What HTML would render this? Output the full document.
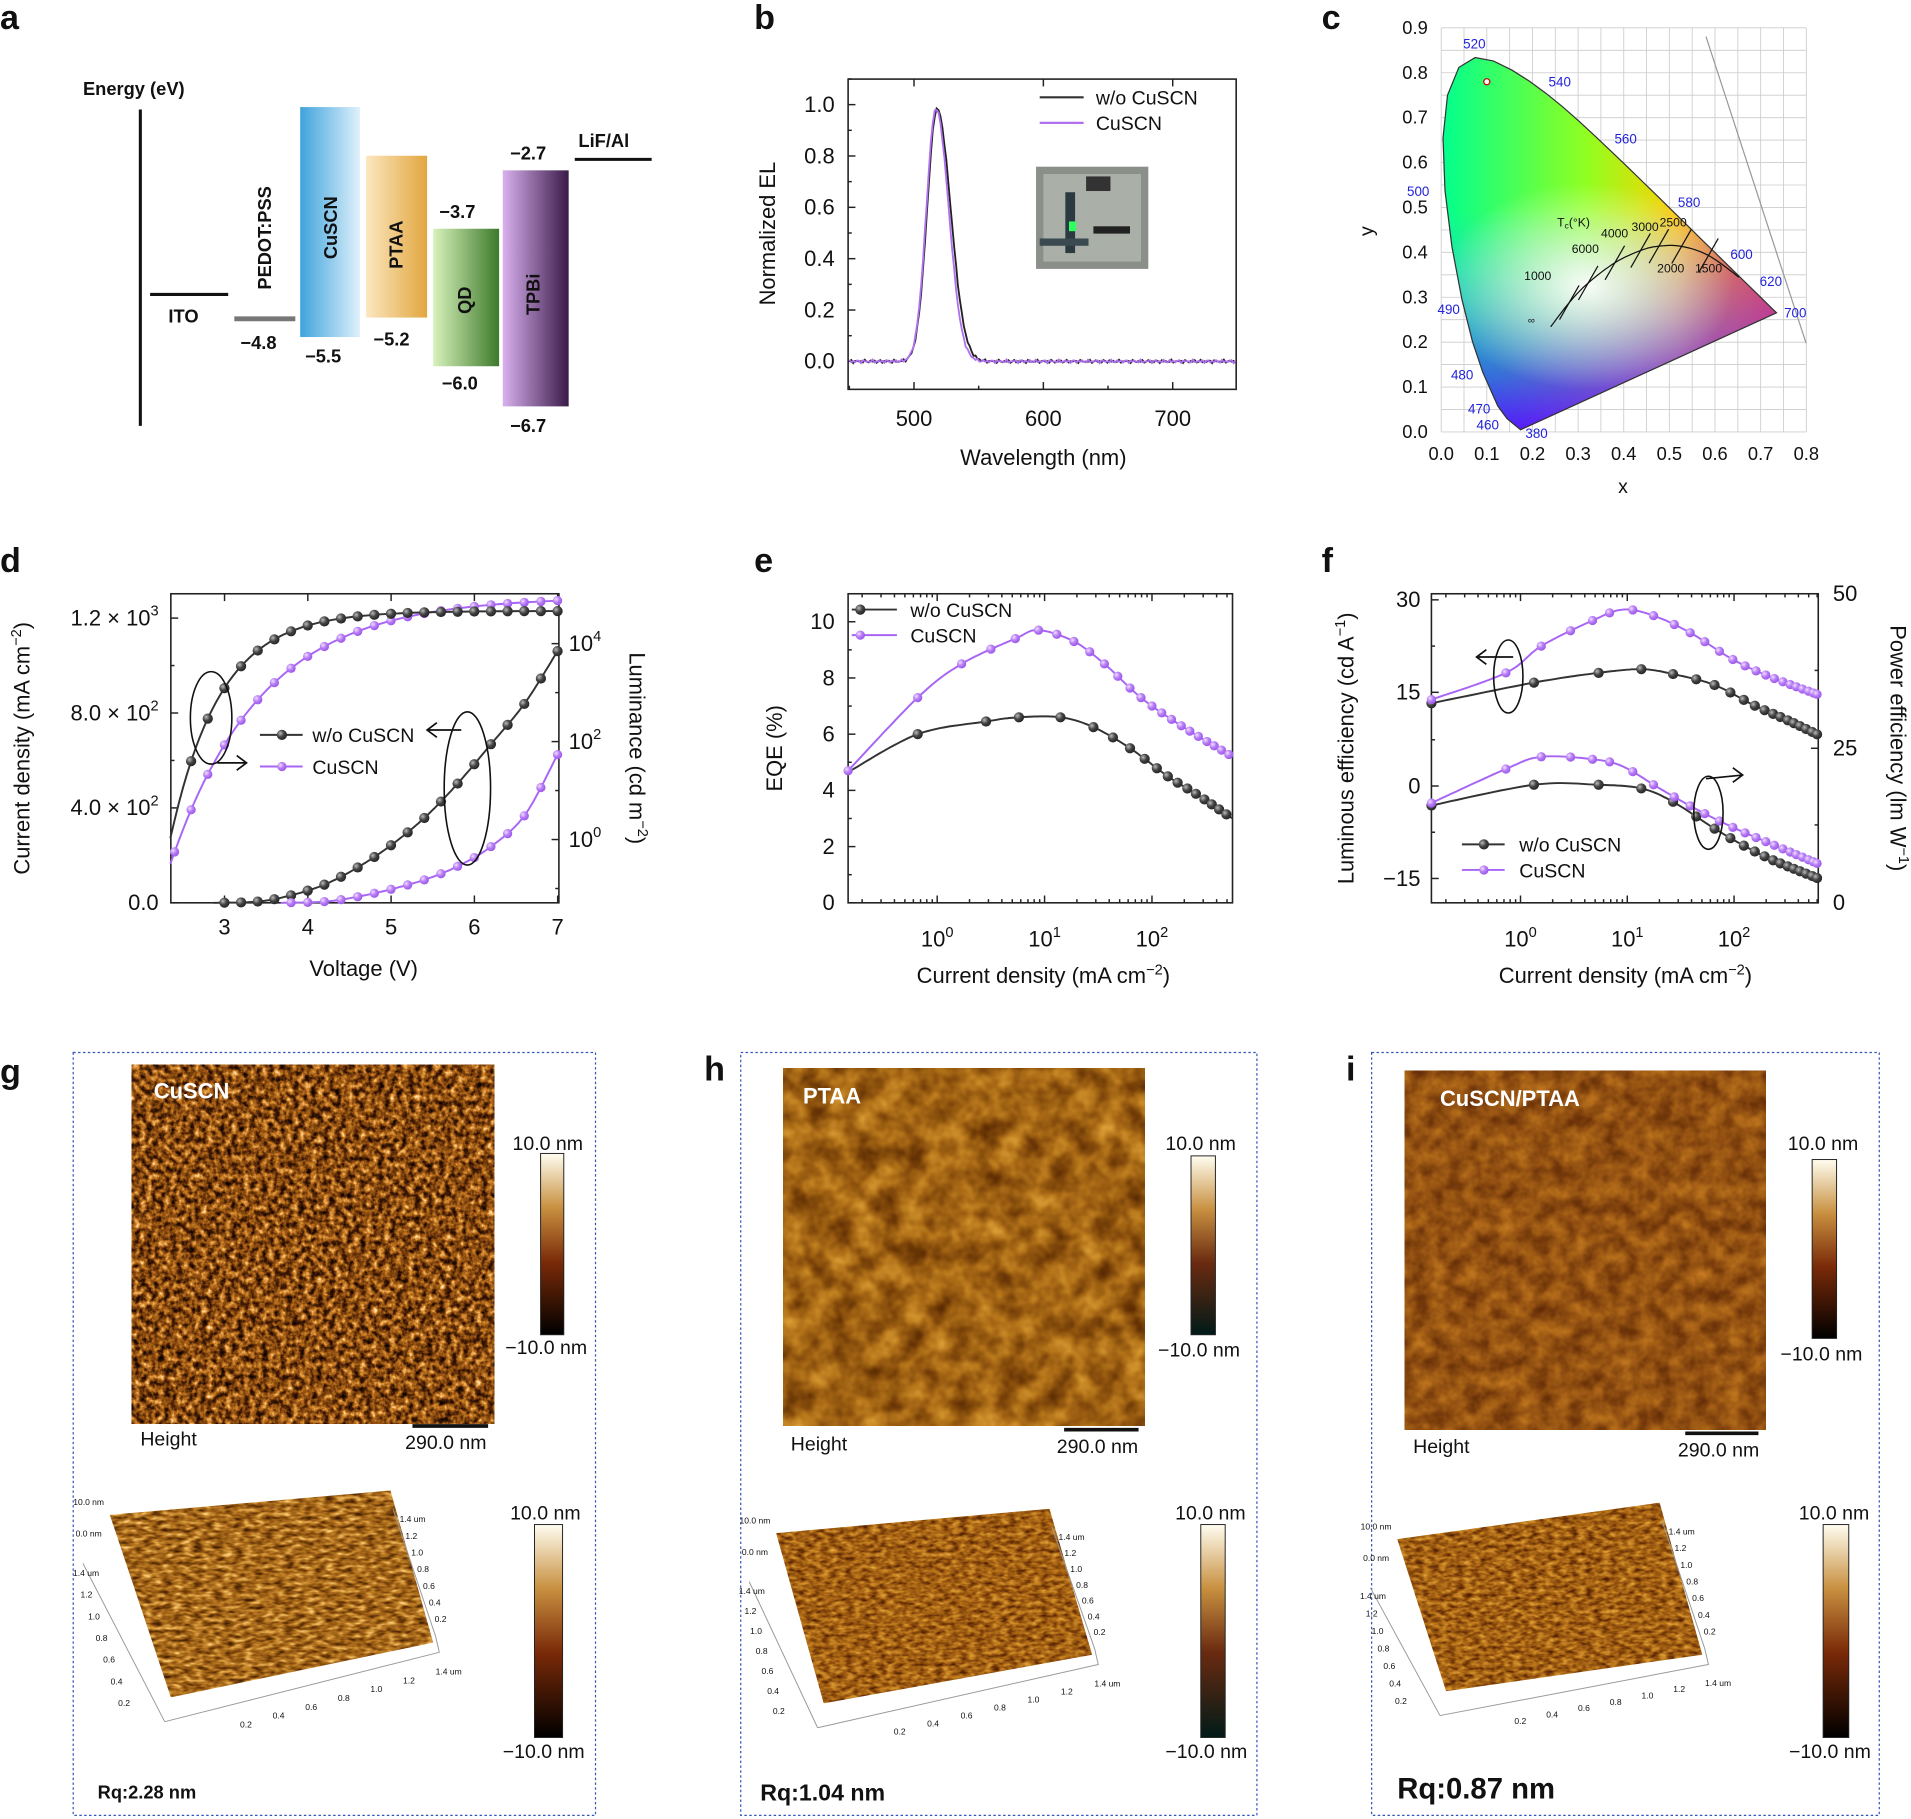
<!DOCTYPE html>
<html><head><meta charset="utf-8"><style>
html,body{margin:0;padding:0;background:#fff}
svg{display:block}
text{font-family:"Liberation Sans",Arial,sans-serif;fill:#111}
.t{font-size:18px}
.b{font-weight:bold}
.L{font-size:28px;font-weight:bold}
.w{font-size:11px;fill:#2222dd}
filter{color-interpolation-filters:sRGB}
</style></head><body>
<svg id="s" width="1911" height="1819" viewBox="0 0 1566 1495" preserveAspectRatio="none" xmlns="http://www.w3.org/2000/svg">
<defs>
<linearGradient id="gCu" x1="0" x2="1"><stop offset="0" stop-color="#3fa3dc"/><stop offset="1" stop-color="#dff1fb"/></linearGradient>
<linearGradient id="gPT" x1="0" x2="1"><stop offset="0" stop-color="#fbe7c0"/><stop offset="1" stop-color="#e2a63e"/></linearGradient>
<linearGradient id="gQD" x1="0" x2="1"><stop offset="0" stop-color="#d8f2bc"/><stop offset="1" stop-color="#3d7a2a"/></linearGradient>
<linearGradient id="gTP" x1="0" x2="1"><stop offset="0" stop-color="#d8b0ee"/><stop offset="1" stop-color="#3a1a48"/></linearGradient>
<linearGradient id="cb" x1="0" y1="0" x2="0" y2="1"><stop offset="0" stop-color="#fffdf0"/><stop offset="0.3" stop-color="#c89040"/><stop offset="0.6" stop-color="#7a2a08"/><stop offset="1" stop-color="#000"/></linearGradient>
<linearGradient id="cb2" x1="0" y1="0" x2="0" y2="1"><stop offset="0" stop-color="#fffdf0"/><stop offset="0.3" stop-color="#c89040"/><stop offset="0.6" stop-color="#6a2a10"/><stop offset="1" stop-color="#001a18"/></linearGradient>
<linearGradient id="cieX" x1="0" x2="1"><stop offset="0" stop-color="#00ff90"/><stop offset="0.4" stop-color="#90ff20"/><stop offset="0.65" stop-color="#ffd000"/><stop offset="1" stop-color="#ff1000"/></linearGradient>
<linearGradient id="cieY" x1="0" y1="0" x2="0" y2="1"><stop offset="0" stop-color="#00ff60" stop-opacity="0"/><stop offset="0.45" stop-color="#40c0ff" stop-opacity="0"/><stop offset="0.75" stop-color="#3060ff" stop-opacity="0.6"/><stop offset="1" stop-color="#4010ff" stop-opacity="1"/></linearGradient>
<linearGradient id="cieM" x1="0" y1="0" x2="1" y2="1"><stop offset="0.5" stop-color="#ff00ff" stop-opacity="0"/><stop offset="1" stop-color="#ff2080" stop-opacity="0.6"/></linearGradient>
<radialGradient id="cieW" cx="0.5" cy="0.5" r="0.5"><stop offset="0" stop-color="#fff" stop-opacity="0.95"/><stop offset="1" stop-color="#fff" stop-opacity="0"/></radialGradient>
<radialGradient id="ball" cx="0.35" cy="0.35" r="0.7"><stop offset="0" stop-color="#bbb"/><stop offset="0.5" stop-color="#444"/><stop offset="1" stop-color="#222"/></radialGradient>
<radialGradient id="pball" cx="0.35" cy="0.35" r="0.7"><stop offset="0" stop-color="#f0e0ff"/><stop offset="0.5" stop-color="#b77cf5"/><stop offset="1" stop-color="#9a55ea"/></radialGradient>
<filter id="afm1" x="0" y="0" width="1" height="1" color-interpolation-filters="sRGB"><feTurbulence type="fractalNoise" baseFrequency="0.2" numOctaves="3" seed="3"/><feColorMatrix type="matrix" values="1 0 0 0 0 1 0 0 0 0 1 0 0 0 0 0 0 0 0 1"/><feComponentTransfer><feFuncR type="table" tableValues="0 0.05 0.25 0.55 0.8 1 1"/><feFuncG type="table" tableValues="0 0.02 0.1 0.3 0.5 0.8 1"/><feFuncB type="table" tableValues="0 0 0.02 0.06 0.15 0.5 0.9"/><feFuncA type="table" tableValues="1 1"/></feComponentTransfer></filter>
<filter id="afm2" x="0" y="0" width="1" height="1" color-interpolation-filters="sRGB"><feTurbulence type="fractalNoise" baseFrequency="0.05" numOctaves="3" seed="7"/><feColorMatrix type="matrix" values="1 0 0 0 0 1 0 0 0 0 1 0 0 0 0 0 0 0 0 1"/><feComponentTransfer><feFuncR type="table" tableValues="0.3 0.4 0.55 0.7 0.82 0.9"/><feFuncG type="table" tableValues="0.12 0.2 0.32 0.45 0.58 0.7"/><feFuncB type="table" tableValues="0 0.02 0.05 0.1 0.18 0.3"/><feFuncA type="table" tableValues="1 1"/></feComponentTransfer></filter>
<filter id="afm3" x="0" y="0" width="1" height="1" color-interpolation-filters="sRGB"><feTurbulence type="fractalNoise" baseFrequency="0.07" numOctaves="3" seed="11"/><feColorMatrix type="matrix" values="1 0 0 0 0 1 0 0 0 0 1 0 0 0 0 0 0 0 0 1"/><feComponentTransfer><feFuncR type="table" tableValues="0.35 0.45 0.58 0.7 0.8"/><feFuncG type="table" tableValues="0.15 0.22 0.32 0.42 0.5"/><feFuncB type="table" tableValues="0.02 0.04 0.07 0.1 0.15"/><feFuncA type="table" tableValues="1 1"/></feComponentTransfer></filter>
<filter id="afm4" x="0" y="0" width="1" height="1" color-interpolation-filters="sRGB"><feTurbulence type="fractalNoise" baseFrequency="0.12 0.3" numOctaves="2" seed="5"/><feColorMatrix type="matrix" values="1 0 0 0 0 1 0 0 0 0 1 0 0 0 0 0 0 0 0 1"/><feComponentTransfer><feFuncR type="table" tableValues="0.15 0.3 0.55 0.75 0.95 1"/><feFuncG type="table" tableValues="0.05 0.15 0.32 0.5 0.75 0.95"/><feFuncB type="table" tableValues="0 0.02 0.06 0.15 0.4 0.8"/><feFuncA type="table" tableValues="1 1"/></feComponentTransfer></filter>
<filter id="afm5" x="0" y="0" width="1" height="1" color-interpolation-filters="sRGB"><feTurbulence type="fractalNoise" baseFrequency="0.15 0.3" numOctaves="2" seed="8"/><feColorMatrix type="matrix" values="1 0 0 0 0 1 0 0 0 0 1 0 0 0 0 0 0 0 0 1"/><feComponentTransfer><feFuncR type="table" tableValues="0.2 0.35 0.55 0.72 0.85 0.95"/><feFuncG type="table" tableValues="0.08 0.15 0.3 0.45 0.6 0.75"/><feFuncB type="table" tableValues="0 0.02 0.05 0.1 0.2 0.35"/><feFuncA type="table" tableValues="1 1"/></feComponentTransfer></filter>
<clipPath id="cieclip"><path id="ciepath" d=""/></clipPath>
<clipPath id="q1"><path d="M90,1245 L320,1225 L355,1350 L140,1395 Z"/></clipPath>
<clipPath id="q2"><path d="M636,1260 L860,1240 L895,1360 L675,1400 Z"/></clipPath>
<clipPath id="q3"><path d="M1145,1265 L1360,1235 L1395,1360 L1185,1390 Z"/></clipPath>
</defs>

<!-- panel a -->
<text x="0" y="24" class="L">a</text>
<text x="68" y="78" font-size="15" class="b">Energy (eV)</text>
<line x1="115" y1="90" x2="115" y2="350" stroke="#111" stroke-width="2.5"/>
<line x1="123" y1="242" x2="187" y2="242" stroke="#111" stroke-width="2.5"/>
<text x="138" y="265" font-size="15" class="b">ITO</text>
<line x1="192" y1="262" x2="242" y2="262" stroke="#777" stroke-width="4"/>
<text transform="translate(222,238) rotate(-90)" font-size="15" class="b">PEDOT:PSS</text>
<text x="197" y="287" font-size="15" class="b">−4.8</text>
<rect x="246" y="88" width="49" height="189" fill="url(#gCu)"/>
<text transform="translate(276,213) rotate(-90)" font-size="15" class="b">CuSCN</text>
<text x="250" y="298" font-size="15" class="b">−5.5</text>
<rect x="300" y="128" width="50" height="133" fill="url(#gPT)"/>
<text transform="translate(330,221) rotate(-90)" font-size="15" class="b">PTAA</text>
<text x="306" y="284" font-size="15" class="b">−5.2</text>
<rect x="355" y="188" width="54" height="113" fill="url(#gQD)"/>
<text transform="translate(386,258) rotate(-90)" font-size="15" class="b">QD</text>
<text x="360" y="179" font-size="15" class="b">−3.7</text>
<text x="362" y="320" font-size="15" class="b">−6.0</text>
<rect x="412" y="140" width="54" height="194" fill="url(#gTP)"/>
<text transform="translate(442,259) rotate(-90)" font-size="15" class="b">TPBi</text>
<text x="418" y="131" font-size="15" class="b">−2.7</text>
<text x="418" y="355" font-size="15" class="b">−6.7</text>
<line x1="471" y1="131" x2="534" y2="131" stroke="#111" stroke-width="2.5"/>
<text x="474" y="121" font-size="15" class="b">LiF/Al</text>

<!-- panel b -->
<text x="618" y="24" class="L">b</text>
<rect x="695" y="65" width="318" height="255" fill="none" stroke="#222" stroke-width="1.3"/>
<g id="bticks"></g>
<text x="855" y="382" class="t" text-anchor="middle">Wavelength (nm)</text>
<text transform="translate(635,192) rotate(-90)" class="t" text-anchor="middle">Normalized EL</text>
<line x1="852" y1="80" x2="888" y2="80" stroke="#333" stroke-width="1.8"/>
<text x="898" y="86" font-size="16">w/o CuSCN</text>
<line x1="852" y1="101" x2="888" y2="101" stroke="#b070f0" stroke-width="1.8"/>
<text x="898" y="107" font-size="16">CuSCN</text>
<rect x="849" y="137" width="92" height="84" fill="#8a8f8a"/>
<rect x="855" y="143" width="80" height="72" fill="#aab0a8"/>
<rect x="890" y="145" width="20" height="12" fill="#333"/>
<rect x="873" y="158" width="8" height="50" fill="#2a3a40"/>
<rect x="876" y="182" width="6" height="8" fill="#30ff60"/>
<rect x="896" y="186" width="30" height="6" fill="#222"/>
<rect x="852" y="196" width="40" height="6" fill="#3a4a50"/>
<g id="bplot"></g>

<!-- panel c -->
<text x="1083" y="24" class="L">c</text>
<g id="cgrid"></g>
<g clip-path="url(#cieclip)">
<rect x="1180" y="20" width="300" height="340" fill="url(#cieX)"/>
<rect x="1180" y="20" width="300" height="340" fill="url(#cieY)"/>
<rect x="1180" y="20" width="300" height="340" fill="url(#cieM)"/>
<ellipse cx="1300" cy="235" rx="120" ry="85" fill="url(#cieW)"/>
</g>
<use href="#ciepath" fill="none" stroke="#333" stroke-width="1"/>
<line x1="1398" y1="30" x2="1480" y2="282" stroke="#999" stroke-width="1"/>
<g id="cextra"></g>
<text x="1330" y="405" font-size="16" text-anchor="middle">x</text>
<text transform="translate(1125,190) rotate(-90)" font-size="16" text-anchor="middle">y</text>
<text x="1199" y="40" class="w">520</text><text x="1269" y="71" class="w">540</text><text x="1323" y="118" class="w">560</text><text x="1375" y="170" class="w">580</text><text x="1418" y="213" class="w">600</text><text x="1442" y="235" class="w">620</text><text x="1462" y="261" class="w">700</text><text x="1153" y="161" class="w">500</text><text x="1178" y="258" class="w">490</text><text x="1189" y="312" class="w">480</text><text x="1203" y="340" class="w">470</text><text x="1210" y="353" class="w">460</text><text x="1250" y="360" class="w">380</text>
<text x="1276" y="186" font-size="10">T<tspan font-size="7" dy="2">c</tspan><tspan dy="-2">(°K)</tspan></text>
<text x="1312" y="195" font-size="10">4000</text><text x="1337" y="190" font-size="10">3000</text><text x="1360" y="186" font-size="10">2500</text>
<text x="1288" y="208" font-size="10">6000</text><text x="1249" y="230" font-size="10">1000</text>
<text x="1358" y="224" font-size="10">2000</text><text x="1389" y="224" font-size="10">1500</text>
<text x="1252" y="266" font-size="8">∞</text>

<!-- panel d -->
<text x="0" y="470" class="L">d</text>
<rect x="140" y="488" width="318" height="254" fill="none" stroke="#222" stroke-width="1.3"/>
<g id="dplot"></g>
<text x="298" y="802" class="t" text-anchor="middle">Voltage (V)</text>
<text transform="translate(24,615) rotate(-90)" class="t" text-anchor="middle">Current density (mA cm<tspan font-size="12" dy="-7">−2</tspan><tspan dy="7">)</tspan></text>
<text transform="translate(516,615) rotate(90)" class="t" text-anchor="middle">Luminance (cd m<tspan font-size="12" dy="-7">−2</tspan><tspan dy="7">)</tspan></text>
<text x="213" y="610" font-size="16" dx="43">w/o CuSCN</text>
<text x="213" y="636" font-size="16" dx="43">CuSCN</text>

<!-- panel e -->
<text x="618" y="470" class="L">e</text>
<rect x="695" y="488" width="315" height="254" fill="none" stroke="#222" stroke-width="1.3"/>
<g id="eplot"></g>
<text x="855" y="808" class="t" text-anchor="middle">Current density (mA cm<tspan font-size="12" dy="-7">−2</tspan><tspan dy="7">)</tspan></text>
<text transform="translate(641,615) rotate(-90)" class="t" text-anchor="middle">EQE (%)</text>
<text x="746" y="507" font-size="16">w/o CuSCN</text>
<text x="746" y="528" font-size="16">CuSCN</text>

<!-- panel f -->
<text x="1083" y="470" class="L">f</text>
<rect x="1173" y="488" width="317" height="254" fill="none" stroke="#222" stroke-width="1.3"/>
<g id="fplot"></g>
<text x="1332" y="808" class="t" text-anchor="middle">Current density (mA cm<tspan font-size="12" dy="-7">−2</tspan><tspan dy="7">)</tspan></text>
<text transform="translate(1109,615) rotate(-90)" class="t" text-anchor="middle">Luminous efficiency (cd A<tspan font-size="12" dy="-7">−1</tspan><tspan dy="7">)</tspan></text>
<text transform="translate(1549,615) rotate(90)" class="t" text-anchor="middle">Power efficiency (lm W<tspan font-size="12" dy="-7">−1</tspan><tspan dy="7">)</tspan></text>
<text x="1245" y="700" font-size="16">w/o CuSCN</text>
<text x="1245" y="721" font-size="16">CuSCN</text>

<!-- panels g h i -->
<text x="0" y="890" class="L">g</text>
<text x="577" y="888" class="L">h</text>
<text x="1103" y="888" class="L">i</text>
<rect x="60" y="865" width="428" height="627" fill="none" stroke="#3355bb" stroke-width="1" stroke-dasharray="2,2"/>
<rect x="607" y="865" width="423" height="627" fill="none" stroke="#3355bb" stroke-width="1" stroke-dasharray="2,2"/>
<rect x="1124" y="865" width="416" height="627" fill="none" stroke="#3355bb" stroke-width="1" stroke-dasharray="2,2"/>

<rect x="108" y="875" width="297" height="295" filter="url(#afm1)"/>
<text x="126" y="903" font-size="18" class="b" style="fill:#fff">CuSCN</text>
<rect x="443" y="948" width="19" height="149" fill="url(#cb)" stroke="#222" stroke-width="0.8"/>
<text x="420" y="945" font-size="16">10.0 nm</text><text x="414" y="1113" font-size="16">−10.0 nm</text>
<text x="115" y="1188" font-size="16">Height</text>
<line x1="338" y1="1172" x2="400" y2="1172" stroke="#111" stroke-width="3"/>
<text x="332" y="1191" font-size="16">290.0 nm</text>
<g clip-path="url(#q1)"><rect x="85" y="1220" width="275" height="180" filter="url(#afm4)"/></g>
<rect x="438" y="1253" width="23" height="175" fill="url(#cb)" stroke="#222" stroke-width="0.8"/>
<text x="418" y="1249" font-size="16">10.0 nm</text><text x="412" y="1445" font-size="16">−10.0 nm</text>
<text x="80" y="1478" font-size="15" class="b">Rq:2.28 nm</text>

<rect x="642" y="878" width="296" height="294" filter="url(#afm2)"/>
<text x="658" y="907" font-size="18" class="b" style="fill:#fff">PTAA</text>
<rect x="976" y="950" width="20" height="147" fill="url(#cb2)" stroke="#222" stroke-width="0.8"/>
<text x="955" y="945" font-size="16">10.0 nm</text><text x="949" y="1115" font-size="16">−10.0 nm</text>
<text x="648" y="1192" font-size="16">Height</text>
<line x1="872" y1="1175" x2="933" y2="1175" stroke="#111" stroke-width="3"/>
<text x="866" y="1194" font-size="16">290.0 nm</text>
<g clip-path="url(#q2)"><rect x="630" y="1235" width="270" height="170" filter="url(#afm5)"/></g>
<rect x="984" y="1253" width="20" height="175" fill="url(#cb2)" stroke="#222" stroke-width="0.8"/>
<text x="963" y="1249" font-size="16">10.0 nm</text><text x="955" y="1445" font-size="16">−10.0 nm</text>
<text x="623" y="1480" font-size="19" class="b">Rq:1.04 nm</text>

<rect x="1151" y="880" width="296" height="295" filter="url(#afm3)"/>
<text x="1180" y="909" font-size="18" class="b" style="fill:#fff">CuSCN/PTAA</text>
<rect x="1485" y="953" width="20" height="147" fill="url(#cb)" stroke="#222" stroke-width="0.8"/>
<text x="1465" y="945" font-size="16">10.0 nm</text><text x="1459" y="1118" font-size="16">−10.0 nm</text>
<text x="1158" y="1194" font-size="16">Height</text>
<line x1="1381" y1="1178" x2="1441" y2="1178" stroke="#111" stroke-width="3"/>
<text x="1375" y="1197" font-size="16">290.0 nm</text>
<g clip-path="url(#q3)"><rect x="1140" y="1230" width="260" height="165" filter="url(#afm5)"/></g>
<rect x="1494" y="1253" width="21" height="175" fill="url(#cb)" stroke="#222" stroke-width="0.8"/>
<text x="1474" y="1249" font-size="16">10.0 nm</text><text x="1466" y="1445" font-size="16">−10.0 nm</text>
<text x="1145" y="1478" font-size="24" class="b">Rq:0.87 nm</text>
<g id="g3d"></g>
</svg>
<script>
var NS="http://www.w3.org/2000/svg";
function el(p,tag,a,txt){var e=document.createElementNS(NS,tag);for(var k in a)e.setAttribute(k,a[k]);if(txt!==undefined)e.textContent=txt;document.getElementById(p).appendChild(e);return e;}
function pathD(pts){return pts.map(function(p,i){return (i?"L":"M")+p[0].toFixed(1)+","+p[1].toFixed(1)}).join("");}
function cr(pts,n){n=n||16;var o=[];for(var i=0;i<pts.length-1;i++){var p0=pts[Math.max(i-1,0)],p1=pts[i],p2=pts[i+1],p3=pts[Math.min(i+2,pts.length-1)];for(var j=0;j<n;j++){var t=j/n,t2=t*t,t3=t2*t;var f=function(a,b,c,d){return 0.5*((2*b)+(-a+c)*t+(2*a-5*b+4*c-d)*t2+(-a+3*b-3*c+d)*t3)};o.push([f(p0[0],p1[0],p2[0],p3[0]),f(p0[1],p1[1],p2[1],p3[1])]);}}o.push(pts[pts.length-1]);return o;}
function yAt(d,x){for(var i=0;i<d.length-1;i++){if(x>=d[i][0]&&x<=d[i+1][0]){var t=(x-d[i][0])/(d[i+1][0]-d[i][0]||1);return d[i][1]+t*(d[i+1][1]-d[i][1]);}}return d[x<d[0][0]?0:d.length-1][1];}
function series(g,key,xs,col,grad,r){var d=cr(key);el(g,"path",{d:pathD(d),fill:"none",stroke:col,"stroke-width":1.6});xs.forEach(function(x){el(g,"circle",{cx:x,cy:yAt(d,x),r:r||4,fill:"url(#"+grad+")"});});}
function tick(g,x1,y1,x2,y2){el(g,"line",{x1:x1,y1:y1,x2:x2,y2:y2,stroke:"#222","stroke-width":1.2});}
function sup(g,x,y,base,exp,anchor){var t=el(g,"text",{x:x,y:y,"font-size":18,"text-anchor":anchor||"middle"});t.textContent="";var a=document.createElementNS(NS,"tspan");a.textContent=base;t.appendChild(a);var b=document.createElementNS(NS,"tspan");b.setAttribute("font-size","12");b.setAttribute("dy","-8");b.textContent=exp;t.appendChild(b);}

// panel b
(function(){var g="bticks";
function X(l){return 749+(l-500)*1.06;}function Y(v){return 297-v*211;}
for(var v=0;v<=1.001;v+=0.2){tick(g,695,Y(v),701,Y(v));el(g,"text",{x:684,y:Y(v)+6,"font-size":18,"text-anchor":"end"},v.toFixed(1));}
for(var v=0.1;v<1.1;v+=0.2){tick(g,695,Y(v),698,Y(v));}
[500,600,700].forEach(function(l){tick(g,X(l),320,X(l),314);tick(g,X(l),65,X(l),71);el(g,"text",{x:X(l),y:350,"font-size":18,"text-anchor":"middle"},l);});
[450,550,650,750].forEach(function(l){if(X(l)>695&&X(l)<1013)tick(g,X(l),320,X(l),317);});
function spec(sh,w1,w2,seed){var pts=[];for(var l=450;l<=749;l+=1.5){var s=l<517+sh?w1:w2;var v=Math.exp(-Math.pow((l-517-sh)/s,2)/2);v+=0.004*Math.sin(l*1.7+seed)+0.003*Math.sin(l*3.1+seed*2);pts.push([X(l),Y(v*0.985)]);}return pts;}
el("bplot","path",{d:pathD(spec(0.8,7.6,10.5,1)),fill:"none",stroke:"#222","stroke-width":1.5});
el("bplot","path",{d:pathD(spec(0,7.4,9.8,4)),fill:"none",stroke:"#b070f0","stroke-width":1.5});
})();

// panel c
(function(){function X(x){return 1181+x*374;}function Y(y){return 355-y*369;}
var g="cgrid";
for(var i=0;i<=16;i++){var x=i*0.05;el(g,"line",{x1:X(x),y1:Y(0),x2:X(x),y2:Y(0.9),stroke:"#ccc","stroke-width":0.7});}
for(var i=0;i<=18;i++){var y=i*0.05;el(g,"line",{x1:X(0),y1:Y(y),x2:X(0.8),y2:Y(y),stroke:"#ccc","stroke-width":0.7});}
for(var i=0;i<=8;i++){el(g,"text",{x:X(i/10),y:378,"font-size":15,"text-anchor":"middle"},(i/10).toFixed(1));}
for(var i=0;i<=9;i++){el(g,"text",{x:1170,y:Y(i/10)+5,"font-size":15,"text-anchor":"end"},(i/10).toFixed(1));}
var loc=[[0.1741,0.005],[0.1440,0.0297],[0.1241,0.0578],[0.0913,0.1327],[0.0687,0.2007],[0.0454,0.295],[0.0235,0.4127],[0.0082,0.5384],[0.0039,0.6548],[0.0139,0.7502],[0.0389,0.812],[0.0743,0.8338],[0.1142,0.8262],[0.1547,0.8059],[0.1929,0.7816],[0.2296,0.7543],[0.2658,0.7243],[0.3016,0.6923],[0.3373,0.6589],[0.3731,0.6245],[0.4087,0.5896],[0.4441,0.5547],[0.4788,0.5202],[0.5125,0.4866],[0.5448,0.4544],[0.5752,0.4242],[0.6029,0.3965],[0.627,0.3725],[0.6658,0.334],[0.6915,0.3083],[0.714,0.2859],[0.7347,0.2653]];
var d=pathD(loc.map(function(p){return [X(p[0]),Y(p[1])]}))+"Z";
document.getElementById("ciepath").setAttribute("d",d);
var pl=[[0.6528,0.3444],[0.5857,0.3931],[0.5267,0.4133],[0.477,0.4137],[0.4369,0.4041],[0.3805,0.3768],[0.3221,0.3318],[0.2807,0.2883],[0.2399,0.2341]].map(function(p){return [X(p[0]),Y(p[1])]});
el("cextra","path",{d:pathD(cr(pl,8)),fill:"none",stroke:"#111","stroke-width":1});
for(var i=1;i<pl.length-1;i++){var p=pl[i];el("cextra","line",{x1:p[0]-8,y1:p[1]+14,x2:p[0]+8,y2:p[1]-14,stroke:"#111","stroke-width":1});}
el("cextra","circle",{cx:X(0.1),cy:Y(0.78),r:2.5,fill:"#fff",stroke:"#c00","stroke-width":1});
})();

// panel d
(function(){var g="dplot";function X(v){return 184+(v-3)*68.25;}function YJ(j){return 742-j*0.195;}function YL(l){return 690-l*40.25;}
[3,4,5,6,7].forEach(function(v){tick(g,X(v),742,X(v),736);tick(g,X(v),488,X(v),494);el(g,"text",{x:X(v),y:768,"font-size":18,"text-anchor":"middle"},v);});
[[1200,"1.2 × 10","3"],[800,"8.0 × 10","2"],[400,"4.0 × 10","2"]].forEach(function(a){tick(g,140,YJ(a[0]),146,YJ(a[0]));sup(g,130,YJ(a[0])+6,a[1],a[2],"end");});
tick(g,140,742,146,742);el(g,"text",{x:130,y:748,"font-size":18,"text-anchor":"end"},"0.0");
[200,600,1000].forEach(function(j){tick(g,140,YJ(j),143,YJ(j));});
[[4,"10","4"],[2,"10","2"],[0,"10","0"]].forEach(function(a){tick(g,458,YL(a[0]),452,YL(a[0]));sup(g,466,YL(a[0])+6,a[1],a[2],"start");});
[-1,1,3].forEach(function(l){tick(g,458,YL(l),455,YL(l));});
function J(v,a,t){return a*(1-Math.exp(-(v-2.2)/t));}
var gk=[],pk=[];for(var v=2.35;v<=7.001;v+=0.05){gk.push([X(v),YJ(J(v,1230,0.6))]);pk.push([X(v),YJ(J(v,1290,1.1))]);}
var xs=[];for(var v=2.6;v<=7.001;v+=0.2)xs.push(X(v)-0.1);
var xs2=[X(2.4)].concat(xs);
el(g,"path",{d:pathD(pk),fill:"none",stroke:"#a864f5","stroke-width":1.6});
xs2.forEach(function(x){el(g,"circle",{cx:x,cy:yAt(pk,x),r:3.8,fill:"url(#pball)"})});
el(g,"path",{d:pathD(gk),fill:"none",stroke:"#333","stroke-width":1.6});
xs.forEach(function(x){el(g,"circle",{cx:x,cy:yAt(gk,x),r:4.2,fill:"url(#ball)"})});
series(g,[[175,742],[211,741],[238,736],[266,727],[293,713],[320,695],[348,672],[375,644],[402,612],[430,578],[457,535]],xs.filter(function(x){return x>=183}),"#333","ball",4.2);
series(g,[[230,742],[266,741],[293,737],[320,731],[348,723],[375,712],[402,696],[430,670],[457,620]],xs.filter(function(x){return x>=238}),"#a864f5","pball",3.8);
el(g,"line",{x1:213,y1:604,x2:248,y2:604,stroke:"#333","stroke-width":1.6});el(g,"circle",{cx:231,cy:604,r:4.2,fill:"url(#ball)"});
el(g,"line",{x1:213,y1:630,x2:248,y2:630,stroke:"#a864f5","stroke-width":1.6});el(g,"circle",{cx:231,cy:630,r:3.8,fill:"url(#pball)"});
el(g,"ellipse",{cx:173,cy:590,rx:17,ry:38,fill:"none",stroke:"#111","stroke-width":1.3});
el(g,"path",{d:"M178,627 L202,627 M194,621 L202,627 L194,633",fill:"none",stroke:"#111","stroke-width":1.4});
el(g,"ellipse",{cx:383,cy:648,rx:19,ry:63,fill:"none",stroke:"#111","stroke-width":1.3});
el(g,"path",{d:"M378,600 L350,600 M358,594 L350,600 L358,606",fill:"none",stroke:"#111","stroke-width":1.4});
})();

function logAxis(g,x0,x1,ybot,ytop,X,dmin,dmax){for(var d=dmin;d<=dmax;d++){for(var m=1;m<10;m++){var x=X(d+Math.log10(m));if(x<x0||x>x1)continue;var L=m==1?6:3;tick(g,x,ybot,x,ybot-L);tick(g,x,ytop,x,ytop+L);}}}

// panel e
(function(){var g="eplot";function X(l){return 768+l*88;}function Y(v){return 742-v*23.1;}
logAxis(g,695,1010,742,488,X,-1,3);
[0,1,2].forEach(function(d){sup(g,X(d),778,"10",d);});
for(var v=0;v<=10;v+=2){tick(g,695,Y(v),701,Y(v));el(g,"text",{x:684,y:Y(v)+6,"font-size":18,"text-anchor":"end"},v);}
for(var v=1;v<10;v+=2){tick(g,695,Y(v),698,Y(v));}
series(g,[[695,Y(4.65)],[752,Y(6.0)],[808,Y(6.45)],[835,Y(6.6)],[869,Y(6.6)],[896,Y(6.25)],[926,Y(5.5)],[957,Y(4.5)],[981,Y(3.85)],[1010,Y(3.0)]],[752,808,835,869,896,912,926,938,948,957,965,973,980,987,993,999,1005],"#333","ball",4.2);
series(g,[[695,Y(4.7)],[752,Y(7.3)],[788,Y(8.5)],[832,Y(9.4)],[851,Y(9.7)],[880,Y(9.3)],[905,Y(8.5)],[935,Y(7.3)],[968,Y(6.3)],[1010,Y(5.2)]],[695,752,788,812,832,851,866,880,893,905,916,926,935,944,952,960,968,975,982,989,995,1001,1007],"#a864f5","pball",3.8);
el(g,"line",{x1:698,y1:501,x2:735,y2:501,stroke:"#333","stroke-width":1.6});el(g,"circle",{cx:705,cy:501,r:4.2,fill:"url(#ball)"});
el(g,"line",{x1:698,y1:522,x2:735,y2:522,stroke:"#a864f5","stroke-width":1.6});el(g,"circle",{cx:705,cy:522,r:3.8,fill:"url(#pball)"});
})();

// panel f
(function(){var g="fplot";function X(l){return 1246+l*87.5;}
logAxis(g,1173,1490,742,488,X,-1,3);
[0,1,2].forEach(function(d){sup(g,X(d),778,"10",d);});
[[30,493],[15,569],[0,646],[-15,722]].forEach(function(a){tick(g,1173,a[1],1179,a[1]);el(g,"text",{x:1164,y:a[1]+6,"font-size":18,"text-anchor":"end"},a[0]==0?"0":(a[0]<0?"−15":a[0]));});
[[50,488],[25,615],[0,742]].forEach(function(a){tick(g,1490,a[1],1484,a[1]);el(g,"text",{x:1502,y:a[1]+6,"font-size":18},a[0]);});
[531,608,684].forEach(function(y){tick(g,1173,y,1176,y);});[551,678].forEach(function(y){tick(g,1490,y,1487,y);});
var gx=[1173,1257,1310,1345,1371,1390,1405,1418,1429,1438,1446,1453,1459,1465,1470,1475,1480,1485,1489];
var px=[1173,1234,1263,1287,1305,1319,1338,1355,1372,1385,1397,1409,1420,1430,1439,1447,1454,1461,1467,1472,1477,1482,1486,1489];
series(g,[[1173,578],[1257,561],[1310,553],[1345,550],[1371,554],[1405,563],[1438,580],[1465,592],[1490,604]],gx,"#333","ball",4.2);
series(g,[[1173,575],[1234,553],[1263,531],[1305,510],[1330,501],[1355,506],[1385,520],[1420,542],[1450,556],[1490,571]],px,"#a864f5","pball",3.8);
series(g,[[1173,662],[1257,645],[1310,645],[1345,648],[1371,659],[1405,681],[1429,695],[1453,707],[1490,722]],gx,"#333","ball",4.2);
series(g,[[1173,660],[1234,632],[1263,622],[1305,624],[1330,630],[1360,648],[1390,665],[1420,680],[1450,693],[1490,710]],px,"#a864f5","pball",3.8);
el(g,"line",{x1:1198,y1:694,x2:1233,y2:694,stroke:"#333","stroke-width":1.6});el(g,"circle",{cx:1216,cy:694,r:4.2,fill:"url(#ball)"});
el(g,"line",{x1:1198,y1:715,x2:1233,y2:715,stroke:"#a864f5","stroke-width":1.6});el(g,"circle",{cx:1216,cy:715,r:3.8,fill:"url(#pball)"});
el(g,"ellipse",{cx:1236,cy:556,rx:12,ry:30,fill:"none",stroke:"#111","stroke-width":1.3});
el(g,"path",{d:"M1240,540 L1210,540 M1218,534 L1210,540 L1218,546",fill:"none",stroke:"#111","stroke-width":1.4});
el(g,"ellipse",{cx:1400,cy:668,rx:12,ry:30,fill:"none",stroke:"#111","stroke-width":1.3});
el(g,"path",{d:"M1398,640 L1428,637 M1420,631 L1428,637 L1420,643",fill:"none",stroke:"#111","stroke-width":1.4});
})();

// 3D axes decorations
(function(){var g="g3d";
[[90,1245,140,1395,355,1350,320,1225],[636,1260,675,1400,895,1360,860,1240],[1145,1265,1185,1390,1395,1360,1360,1235]].forEach(function(q){
el(g,"path",{d:"M"+(q[2]-5)+","+(q[3]+20)+" L"+(q[4]+5)+","+(q[5]+8)+" L"+(q[4]+2)+","+(q[5]-5),fill:"none",stroke:"#999","stroke-width":0.8});
el(g,"line",{x1:q[0]-22,y1:q[1]+40,x2:q[2]-5,y2:q[3]+20,stroke:"#999","stroke-width":0.8});
el(g,"line",{x1:q[6]+2,y1:q[7]+15,x2:q[4]+2,y2:q[5]-5,stroke:"#999","stroke-width":0.8});
var lab=["0.2","0.4","0.6","0.8","1.0","1.2","1.4 um"];
for(var i=0;i<7;i++){var t=(i+1)/7.3;el(g,"text",{x:q[2]+30+t*(q[4]-q[2]-20),y:q[3]+32+t*(q[5]-q[3]-8),"font-size":7},lab[i]);
el(g,"text",{x:q[0]-10+(1-t)*(q[2]-q[0]-5)-22,y:q[1]+45+(1-t)*(q[3]-q[1]-20),"font-size":7},lab[i]);
el(g,"text",{x:q[6]+6+(1-t)*(q[4]-q[6]),y:q[7]+22+(1-t)*(q[5]-q[7]-25),"font-size":7},lab[i]);}
el(g,"text",{x:q[0]-30,y:q[1]-8,"font-size":7},"10.0 nm");el(g,"text",{x:q[0]-28,y:q[1]+18,"font-size":7},"0.0 nm");
});})();
</script>
</body></html>
